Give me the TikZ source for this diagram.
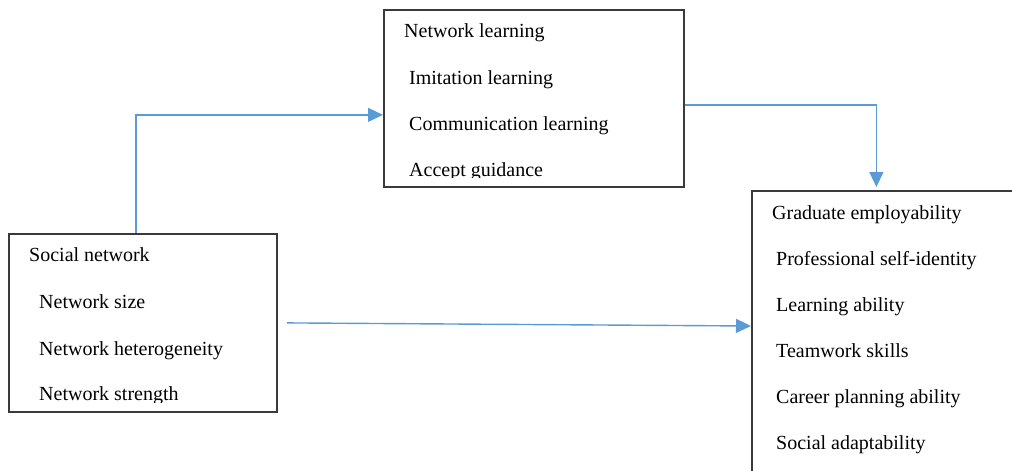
\documentclass[tikz,border=0pt]{standalone}
\usepackage{fontspec}
\setmainfont{Liberation Serif}
\usetikzlibrary{arrows.meta}
\definecolor{arrowblue}{HTML}{5B9BD5}
\definecolor{boxgrey}{HTML}{3A3A3A}
\begin{document}
\begin{tikzpicture}[x=1pt,y=-1pt,
  box/.style={draw=boxgrey,line width=1.8pt,rectangle,inner sep=0pt,anchor=north west},
  txt/.style={anchor=base west,inner sep=0pt,font=\fontsize{20}{24}\selectfont},
  conn/.style={draw=arrowblue,line width=1.4pt,-{Triangle[length=15pt,width=14pt]}}]
\useasboundingbox (0,0) rectangle (1012,471);
% boxes
\node[box,minimum width=300pt,minimum height=177pt] (nl) at (383,9) {};
\node[box,minimum width=268pt,minimum height=178pt] (sn) at (8,233) {};
\node[box,minimum width=263pt,minimum height=300pt] (ge) at (751,190) {};
% texts of network learning
\begin{scope}
\clip (383,9) rectangle (683,177.5);
\node[txt] (nl0) at (404,37) {Network learning};
\node[txt] (nl1) at (409,84) {Imitation learning};
\node[txt] (nl2) at (409,130) {Communication learning};
\node[txt] (nl3) at (409,176) {Accept guidance};
\end{scope}
% texts of social network
\begin{scope}
\clip (8,233) rectangle (276,402.5);
\node[txt] (sn0) at (29,261) {Social network};
\node[txt] (sn1) at (39,308) {Network size};
\node[txt] (sn2) at (39,355) {Network heterogeneity};
\node[txt] (sn3) at (39,400) {Network strength};
\end{scope}
% texts of graduate employability
\node[txt] (ge0) at (772,219) {Graduate employability};
\node[txt] (ge1) at (776,265) {Professional self-identity};
\node[txt] (ge2) at (776,311) {Learning ability};
\node[txt] (ge3) at (776,357) {Teamwork skills};
\node[txt] (ge4) at (776,403) {Career planning ability};
\node[txt] (ge5) at (776,449) {Social adaptability};
% connectors
\draw[conn] ([xshift=-7pt]sn.north) |- ([yshift=-16.5pt]nl.west);
\draw[conn] ([xshift=9pt]sn.east) -- ([yshift=-136pt]ge.north west);
\draw[conn] ([yshift=-6.5pt]nl.east) -| ([xshift=-7pt,yshift=3pt]ge.north);
\end{tikzpicture}
\end{document}
